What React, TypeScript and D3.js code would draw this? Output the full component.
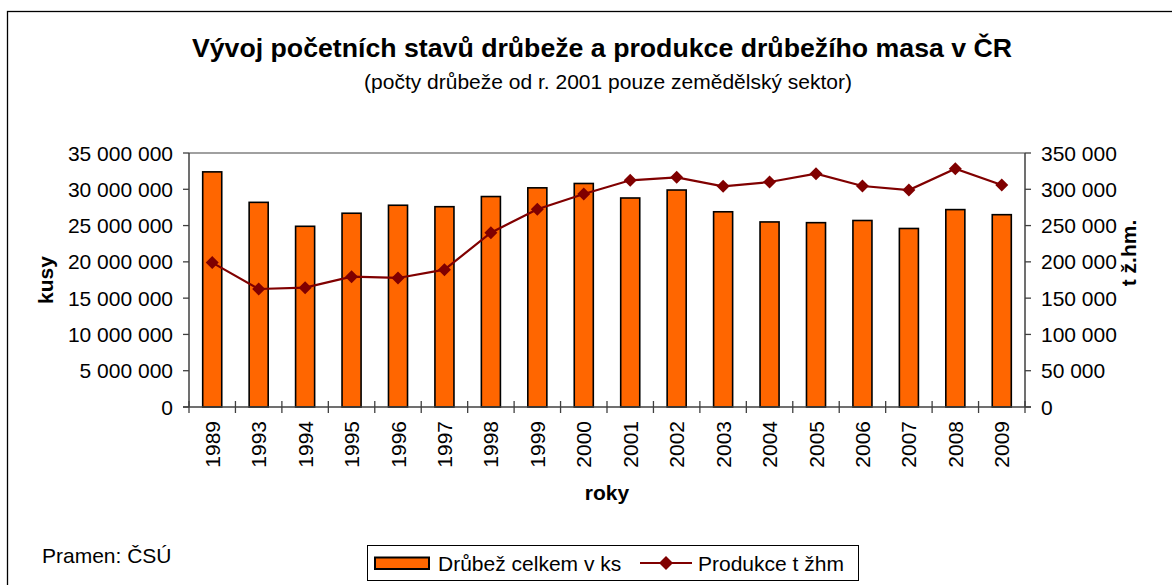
import React from "react";
import * as d3 from "d3";

const years = ["1989","1993","1994","1995","1996","1997","1998","1999","2000","2001","2002","2003","2004","2005","2006","2007","2008","2009"];
const poultry = [32400000,28200000,24900000,26700000,27800000,27600000,29000000,30200000,30800000,28800000,29900000,26900000,25500000,25400000,25700000,24600000,27200000,26500000];
const meat = [199000,162600,164400,179600,177800,189200,240200,272400,293500,312400,316500,304100,310000,321500,304500,299000,328400,305900];
const leftTicks = [0,5000000,10000000,15000000,20000000,25000000,30000000,35000000];
const rightTicks = [0,50000,100000,150000,200000,250000,300000,350000];

const W = 1172, H = 585;
const L = 189, R = 1025, T = 153, B = 407;
const FONT = "'Liberation Sans', Arial, sans-serif";

function fmt(v: number) {
  return d3.format(",")(v).replace(/,/g, " ");
}

export default function App() {
  const x = d3.scaleBand<string>().domain(years).range([L, R]).paddingInner(0.59).paddingOuter(0.295);
  const step = x.step();
  const yL = d3.scaleLinear().domain([0, 35000000]).range([B, T]);
  const yR = d3.scaleLinear().domain([0, 350000]).range([B, T]);
  const line = d3.line<number>().x((_, i) => (x(years[i]) as number) + x.bandwidth() / 2).y(d => yR(d));
  const diamond = (cx: number, cy: number, r: number) => `M${cx},${cy - r}L${cx + r},${cy}L${cx},${cy + r}L${cx - r},${cy}Z`;
  const fs = 21;

  return (
    <svg width={W} height={H} style={{ position: "absolute", left: 0, top: 0, background: "#fff" }} fontFamily={FONT}>
      <rect x={7.5} y={11.5} width={1300} height={700} fill="#fff" stroke="#000" strokeWidth={1.3} />
      <text x={602} y={57} textAnchor="middle" fontWeight="bold" fontSize={26.7}>Vývoj početních stavů drůbeže a produkce drůbežího masa v ČR</text>
      <text x={608} y={89} textAnchor="middle" fontSize={21}>(počty drůbeže od r. 2001 pouze zemědělský sektor)</text>

      {/* plot top border */}
      <line x1={L} x2={R} y1={T} y2={T} stroke="#808080" strokeWidth={1.5} />

      {/* bars */}
      {poultry.map((v, i) => (
        <rect key={i} x={x(years[i]) as number} y={yL(v)} width={x.bandwidth()} height={B - yL(v)} fill="#FF6600" stroke="#000" strokeWidth={1.6} />
      ))}

      {/* axes */}
      <line x1={L} x2={L} y1={T} y2={B} stroke="#404040" strokeWidth={1.5} />
      <line x1={R} x2={R} y1={T} y2={B} stroke="#404040" strokeWidth={1.5} />
      <line x1={L - 6} x2={R + 6} y1={B} y2={B} stroke="#404040" strokeWidth={1.5} />
      {leftTicks.map(t => (
        <g key={"l" + t}>
          <line x1={L - 6} x2={L} y1={yL(t)} y2={yL(t)} stroke="#404040" strokeWidth={1.3} />
          <text x={173} y={yL(t)} dy="0.36em" textAnchor="end" fontSize={fs}>{fmt(t)}</text>
        </g>
      ))}
      {rightTicks.map(t => (
        <g key={"r" + t}>
          <line x1={R} x2={R + 6} y1={yR(t)} y2={yR(t)} stroke="#404040" strokeWidth={1.3} />
          <text x={1041} y={yR(t)} dy="0.36em" textAnchor="start" fontSize={fs}>{fmt(t)}</text>
        </g>
      ))}
      {d3.range(years.length + 1).map(i => (
        <line key={"x" + i} x1={L + i * step} x2={L + i * step} y1={B - 6} y2={B + 6} stroke="#404040" strokeWidth={1.3} />
      ))}
      {years.map(yr => {
        const cx = (x(yr) as number) + x.bandwidth() / 2;
        return (
          <text key={yr} transform={`translate(${cx},${421}) rotate(-90)`} dy="0.36em" textAnchor="end" fontSize={fs}>{yr}</text>
        );
      })}

      {/* line series */}
      <path d={line(meat) as string} fill="none" stroke="#800000" strokeWidth={2.2} />
      {meat.map((v, i) => (
        <path key={i} d={diamond((x(years[i]) as number) + x.bandwidth() / 2, yR(v), 6.5)} fill="#800000" />
      ))}

      {/* axis titles */}
      <text x={607} y={500} textAnchor="middle" fontWeight="bold" fontSize={fs}>roky</text>
      <text transform={`translate(45,280) rotate(-90)`} dy="0.36em" textAnchor="middle" fontWeight="bold" fontSize={fs}>kusy</text>
      <text transform={`translate(1128,253) rotate(-90)`} dy="0.36em" textAnchor="middle" fontWeight="bold" fontSize={fs}>t ž.hm.</text>

      <text x={42} y={563} fontSize={fs}>Pramen: ČSÚ</text>

      {/* legend */}
      <rect x={367.5} y={545.5} width={491} height={35} fill="#fff" stroke="#000" strokeWidth={1} />
      <rect x={375} y={557.5} width={54} height={11.5} fill="#FF6600" stroke="#000" strokeWidth={2} />
      <text x={438} y={571} fontSize={fs}>Drůbež celkem v ks</text>
      <line x1={640} x2={692} y1={563} y2={563} stroke="#800000" strokeWidth={2.2} />
      <path d={diamond(666, 563, 7)} fill="#800000" />
      <text x={698} y={571} fontSize={fs}>Produkce t žhm</text>
    </svg>
  );
}
